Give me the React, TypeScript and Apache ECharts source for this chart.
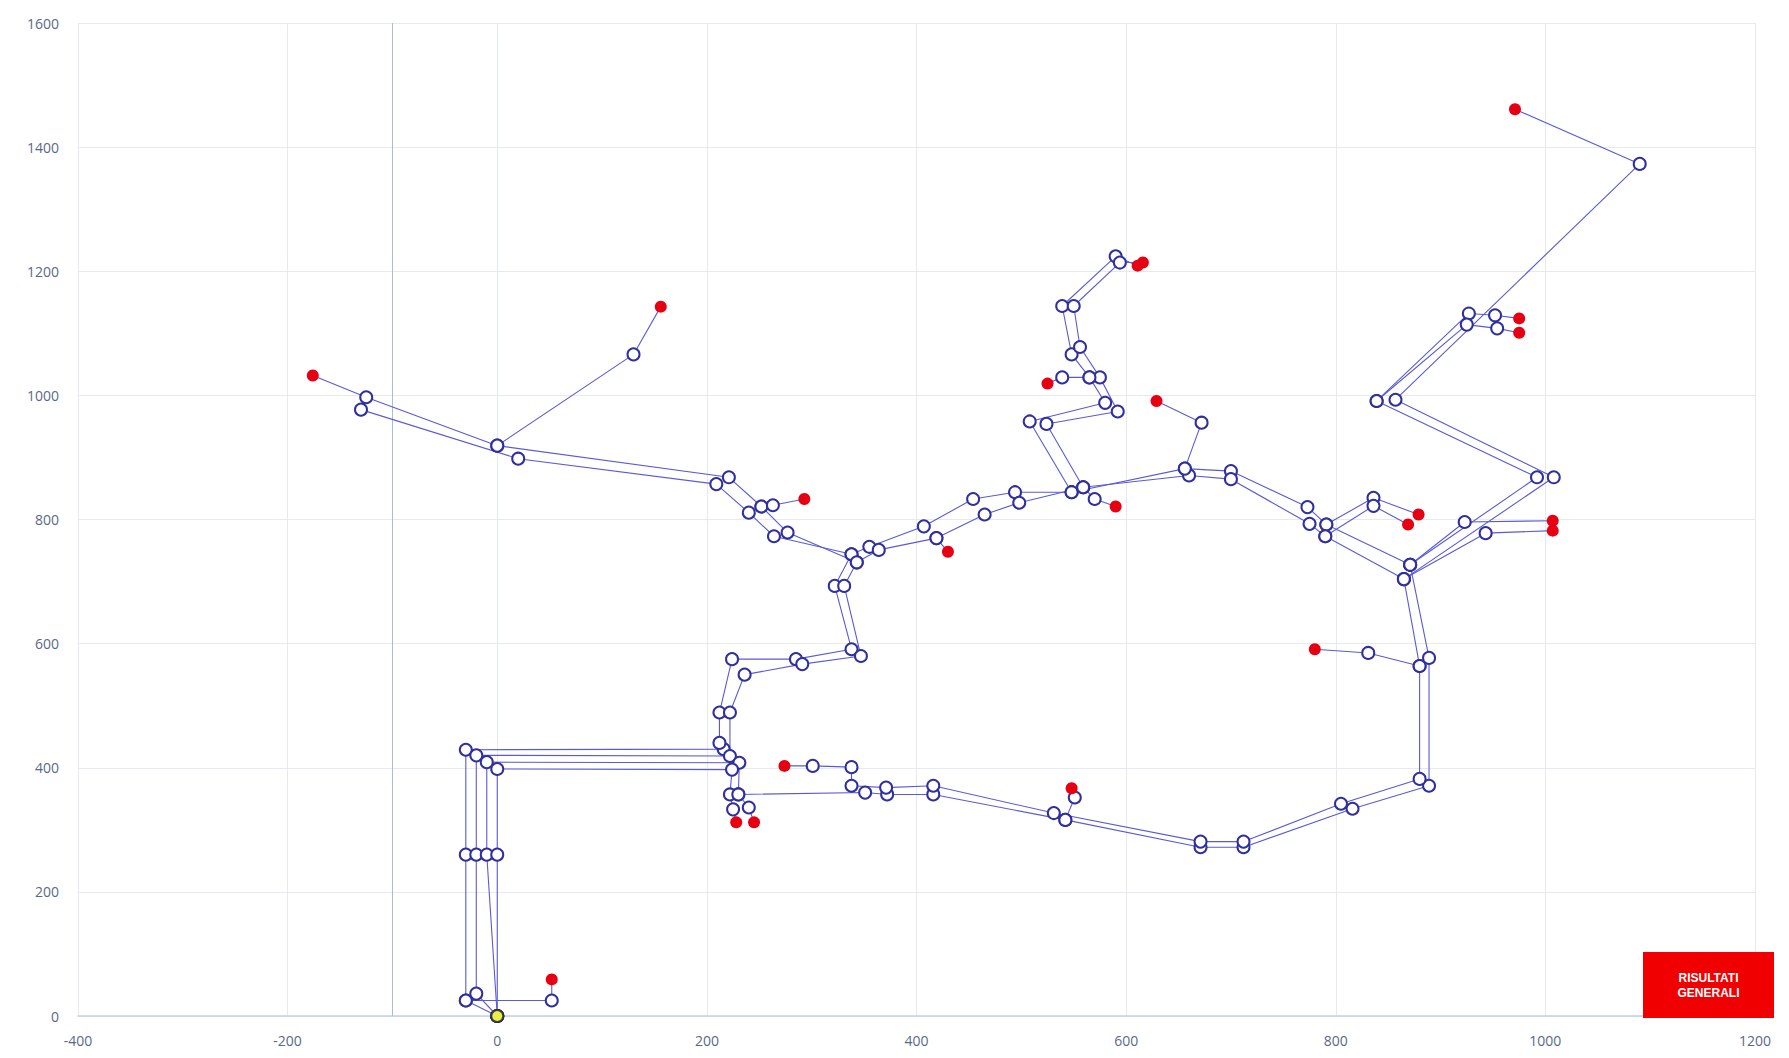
import React, { useEffect, useRef } from "react";
import * as echarts from "echarts";

type P = [number, number];

const xTicks = [-400, -200, 0, 200, 400, 600, 800, 1000, 1200];
const yTicks = [0, 200, 400, 600, 800, 1000, 1200, 1400, 1600];
const origin: P[] = [[0, 0]];
const referenceX = -100;

const pathA: P[] = [[0, 0], [-30, 25], [-30, 260], [-30, 429], [216, 430], [212, 440], [212, 489], [224, 575], [285, 575], [338, 591], [322, 693], [338, 744], [264, 773], [240, 811], [209, 857], [20, 898], [-130, 977]];
const pathB: P[] = [[0, 0], [-20, 36], [-20, 260], [-20, 420], [222, 419], [222, 489], [236, 550], [291, 567], [347, 580], [331, 693], [343, 731], [277, 779], [252, 821], [221, 868], [0, 919], [-125, 997], [-176, 1032]];
const pathC: P[] = [[252, 821], [263, 823], [293, 833]];
const pathD: P[] = [[0, 919], [130, 1066], [156, 1143]];
const pathE: P[] = [[-30, 25], [52, 25], [52, 59]];
const pathF: P[] = [[0, 0], [-10, 260], [-10, 409], [231, 408], [230, 357], [240, 336], [245, 312]];
const pathG: P[] = [[0, 0], [0, 260], [0, 398], [224, 397], [222, 357], [225, 333], [228, 312]];
const pathH: P[] = [[338, 744], [355, 756], [407, 789], [454, 833], [494, 844], [548, 844], [508, 958], [580, 988], [565, 1029], [548, 1066], [539, 1144], [590, 1224], [611, 1209]];
const pathI: P[] = [[343, 731], [364, 751], [419, 770], [465, 808], [498, 827], [559, 852], [524, 954], [592, 974], [575, 1029], [556, 1078], [550, 1144], [594, 1214], [616, 1214]];
const pathJ: P[] = [[565, 1029], [539, 1029], [525, 1019]];
const pathK: P[] = [[419, 770], [430, 748]];
const pathL: P[] = [[548, 844], [656, 882], [700, 878], [773, 820], [791, 792], [836, 835], [879, 808]];
const pathM: P[] = [[559, 852], [660, 871], [700, 865], [775, 793], [790, 773], [836, 822], [869, 792]];
const pathN: P[] = [[559, 852], [570, 833], [590, 821]];
const pathO: P[] = [[656, 882], [672, 956], [629, 991]];
const pathP: P[] = [[791, 792], [871, 727], [992, 868], [839, 991], [927, 1132], [952, 1129], [975, 1124]];
const pathQ: P[] = [[790, 773], [865, 704], [1008, 868], [857, 993], [1090, 1373], [971, 1461]];
const pathR: P[] = [[839, 991], [925, 1114], [954, 1108], [975, 1101]];
const pathS: P[] = [[871, 727], [923, 796], [1007, 798]];
const pathT: P[] = [[865, 704], [943, 778], [1007, 782]];
const pathU: P[] = [[871, 727], [889, 577], [889, 371], [816, 334], [712, 272], [671, 272], [542, 316], [416, 357], [372, 357], [351, 360], [230, 357]];
const pathV: P[] = [[865, 704], [880, 564], [880, 382], [805, 342], [712, 281], [671, 281], [531, 327], [416, 371], [371, 368], [338, 371], [338, 401], [301, 403], [274, 403]];
const pathW: P[] = [[880, 564], [831, 585], [780, 591]];
const pathX: P[] = [[542, 316], [551, 352], [548, 367]];

const routes: { pts: P[]; red: boolean }[] = [
  { pts: pathA, red: false },
  { pts: pathB, red: true },
  { pts: pathC, red: true },
  { pts: pathD, red: true },
  { pts: pathE, red: true },
  { pts: pathF, red: true },
  { pts: pathG, red: true },
  { pts: pathH, red: true },
  { pts: pathI, red: true },
  { pts: pathJ, red: true },
  { pts: pathK, red: true },
  { pts: pathL, red: true },
  { pts: pathM, red: true },
  { pts: pathN, red: true },
  { pts: pathO, red: true },
  { pts: pathP, red: true },
  { pts: pathQ, red: true },
  { pts: pathR, red: true },
  { pts: pathS, red: true },
  { pts: pathT, red: true },
  { pts: pathU, red: false },
  { pts: pathV, red: true },
  { pts: pathW, red: true },
  { pts: pathX, red: true },
];

const W = 1789;
const H = 1058;

export default function App() {
  const ref = useRef<HTMLDivElement>(null);
  useEffect(() => {
    document.body.style.margin = "0";
    if (!ref.current) return;
    const chart = echarts.init(ref.current, null, { renderer: "svg" });
    const lineColor = "#5a5ad6";
    const whiteItem = { color: "#ffffff", borderColor: "#2f2f9e", borderWidth: 2 };
    const redItem = { color: "#e60012", borderColor: "#e60012", borderWidth: 0 };

    const lineSeries: any[] = routes.map((r, i) => ({
      type: "line",
      name: "route" + i,
      showAllSymbol: true,
      symbol: "circle",
      symbolSize: 12,
      lineStyle: { color: lineColor, width: 1.1 },
      itemStyle: whiteItem,
      z: 2,
      data: r.pts.map((p, j) => {
        const isEnd = r.red && j === r.pts.length - 1;
        return isEnd ? { value: p, itemStyle: redItem, symbolSize: 12 } : { value: p };
      }),
      markLine:
        i === 0
          ? {
              silent: true,
              symbol: "none",
              label: { show: false },
              lineStyle: { color: "#aebbd6", width: 1, type: "solid" },
              data: [{ xAxis: referenceX }],
              z: 1,
            }
          : undefined,
    }));

    lineSeries.push({
      type: "scatter",
      symbol: "circle",
      symbolSize: 12,
      itemStyle: { color: "#e8e81a", borderColor: "#2b2b2b", borderWidth: 2 },
      data: origin,
      z: 5,
    });

    const fmt = (v: number) => String(v);

    chart.setOption({
      animation: false,
      backgroundColor: "#ffffff",
      grid: { left: 78, right: W - 1755, top: 23, bottom: H - 1016, containLabel: false },
      xAxis: {
        type: "value",
        min: xTicks[0],
        max: xTicks[xTicks.length - 1],
        interval: 200,
        axisLine: { show: true, onZero: false, lineStyle: { color: "#c3d0e6", width: 1.5 } },
        axisTick: { show: false },
        axisLabel: { color: "#5a6888", fontSize: 14, fontFamily: "Open Sans", margin: 17, formatter: fmt },
        splitLine: { show: true, lineStyle: { color: "#e4e9f2", width: 1 } },
      },
      yAxis: {
        type: "value",
        min: yTicks[0],
        max: yTicks[yTicks.length - 1],
        interval: 200,
        axisLine: { show: false },
        axisTick: { show: false },
        axisLabel: { color: "#5a6888", fontSize: 14, fontFamily: "Open Sans", margin: 19, formatter: fmt },
        splitLine: { show: true, lineStyle: { color: "#e4e9f2", width: 1 } },
      },
      series: lineSeries,
      graphic: [
        {
          type: "group",
          left: 1643,
          top: 952,
          z: 100,
          children: [
            { type: "rect", z: 100, shape: { x: 0, y: 0, width: 131, height: 66 }, style: { fill: "#f00000" } },
            {
              type: "text",
              z: 101,
              x: 65.5,
              y: 33,
              style: {
                text: "RISULTATI\nGENERALI",
                fill: "#ffffff",
                font: "bold 12px 'Liberation Sans Narrow', 'Liberation Sans', sans-serif",
                align: "center",
                verticalAlign: "middle",
                lineHeight: 15,
              },
            },
          ],
        },
      ],
    });
    return () => chart.dispose();
  }, []);
  return <div ref={ref} style={{ width: W, height: H }} />;
}
